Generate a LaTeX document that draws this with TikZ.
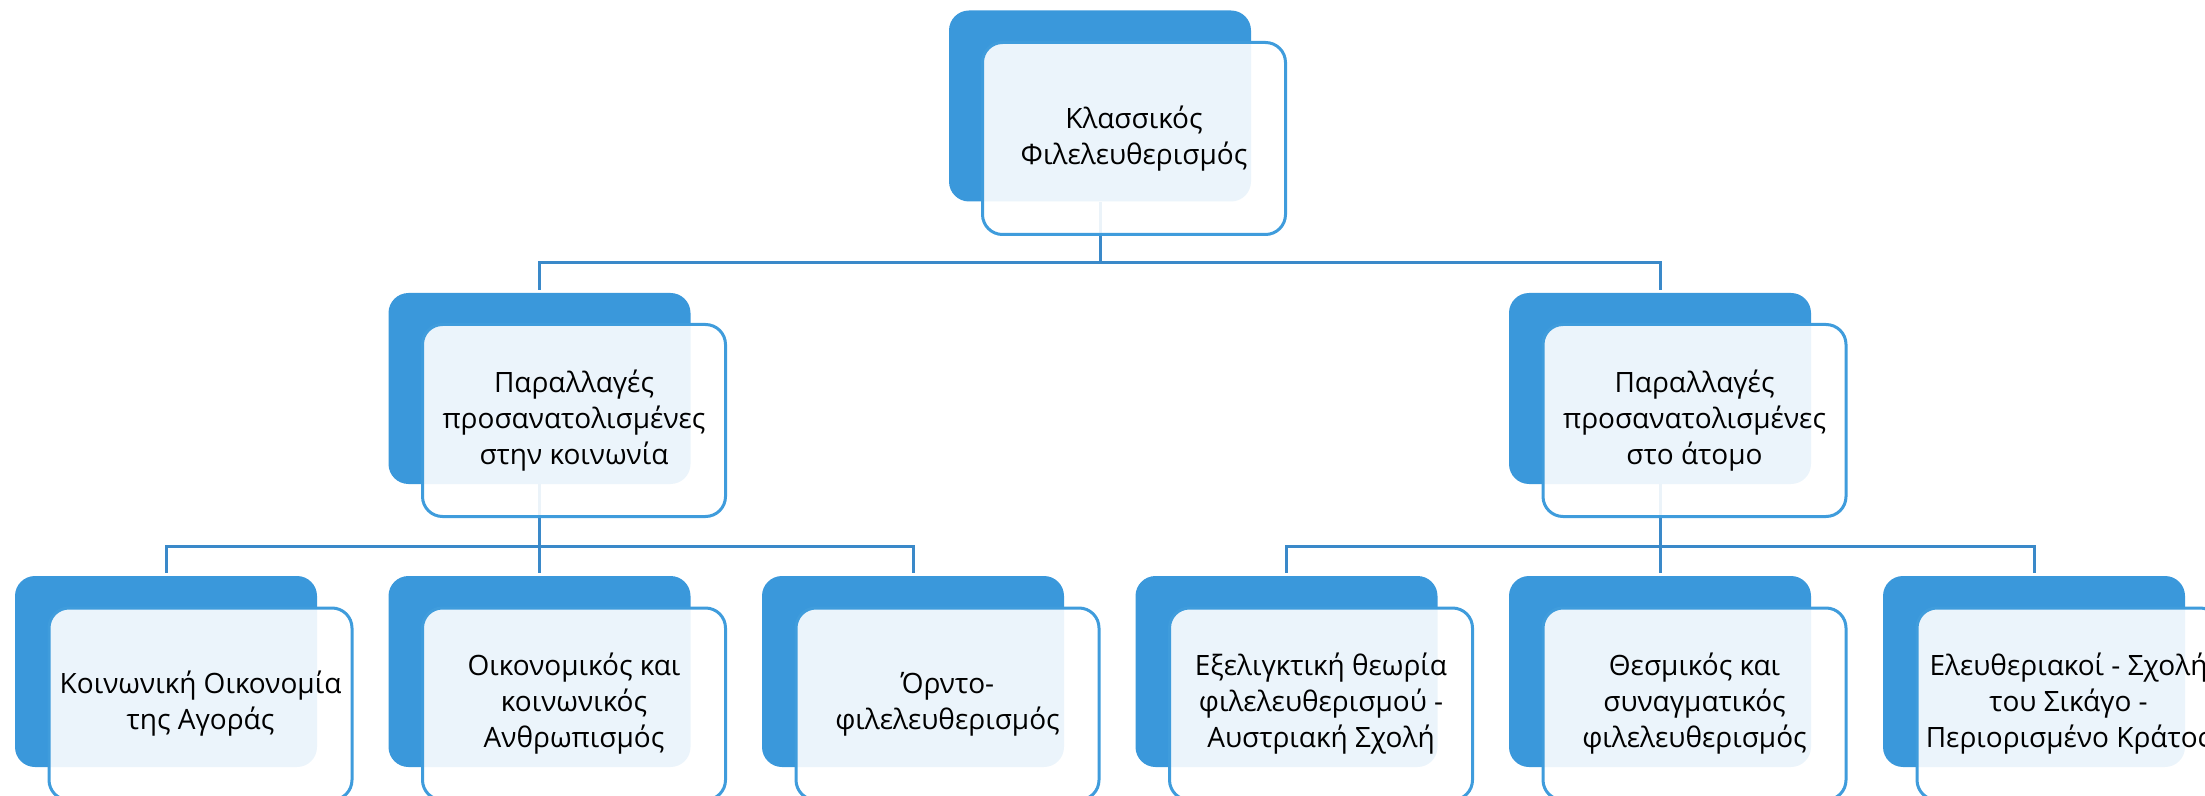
\documentclass[tikz,border=0pt]{standalone}
\usepackage{fontspec}
\setmainfont{Open Sans}
\pgfdeclarelayer{bg}
\pgfsetlayers{bg,main}
\definecolor{darkblue}{HTML}{3A98DB}
\definecolor{edgeblue}{HTML}{3F9CDC}
\definecolor{connblue}{HTML}{3A89C9}
\tikzset{
  darkbox/.style={fill=darkblue, rounded corners=10pt, minimum width=151pt, minimum height=95.5pt, inner sep=0pt},
  frontbox/.style={draw=edgeblue, line width=1.5pt, fill=white, fill opacity=0.9, text opacity=1,
    rounded corners=10pt, minimum width=151.5pt, minimum height=96pt, inner sep=0pt,
    align=center, text=black, font=\fontsize{14}{18}\selectfont},
  conn/.style={draw=connblue, line width=1.5pt},
}
\begin{document}
\begin{tikzpicture}[x=0.5pt,y=-0.5pt]
\useasboundingbox (0,0) rectangle (2205,796);
\clip (0,0) rectangle (2205,796);
% dark boxes
\node[darkbox] (d0) at (1100,106) {};
\node[darkbox] (d1) at (539.5,388.5) {};
\node[darkbox] (d2) at (1660,388.5) {};
\node[darkbox] (d3) at (166,671.5) {};
\node[darkbox] (d4) at (539.5,671.5) {};
\node[darkbox] (d5) at (913,671.5) {};
\node[darkbox] (d6) at (1286.5,671.5) {};
\node[darkbox] (d7) at (1660,671.5) {};
\node[darkbox] (d8) at (2034,671.5) {};
% front boxes
\node[frontbox] (f0) at (1134,138.5) {Κλασσικός\\Φιλελευθερισμός};
\node[frontbox] (f1) at (574,420.5) {Παραλλαγές\\προσανατολισμένες\\στην κοινωνία};
\node[frontbox] (f2) at (1694.5,420.5) {Παραλλαγές\\προσανατολισμένες\\στο άτομο};
\node[frontbox] (f3) at (200.5,704) {Κοινωνική Οικονομία\\της Αγοράς};
\node[frontbox] (f4) at (574,704) {Οικονομικός και\\κοινωνικός\\Ανθρωπισμός};
\node[frontbox] (f5) at (947.5,704) {Όρντο-\\φιλελευθερισμός};
\node[frontbox] (f6) at (1321,704) {Εξελιγκτική θεωρία\\φιλελευθερισμού -\\Αυστριακή Σχολή};
\node[frontbox] (f7) at (1694.5,704) {Θεσμικός και\\συναγματικός\\φιλελευθερισμός};
\node[frontbox] (f8) at (2068.5,704) {Ελευθεριακοί - Σχολή\\του Σικάγο -\\Περιορισμένο Κράτος};
% connectors
\begin{pgfonlayer}{bg}
\draw[conn] (d0.south) -- ++(0,61) coordinate (b0);
\draw[conn, shorten >=1.5pt] (b0) -| (d1.north);
\draw[conn, shorten >=1.5pt] (b0) -| (d2.north);
\draw[conn] (d1.south) -- ++(0,62) coordinate (b1);
\draw[conn, shorten >=1.5pt] (b1) -| (d3.north);
\draw[conn, shorten >=1.5pt] (b1) -| (d5.north);
\draw[conn, shorten >=1.5pt] (b1) -- (d4.north);
\draw[conn] (d2.south) -- ++(0,62) coordinate (b2);
\draw[conn, shorten >=1.5pt] (b2) -| (d6.north);
\draw[conn, shorten >=1.5pt] (b2) -| (d8.north);
\draw[conn, shorten >=1.5pt] (b2) -- (d7.north);
\end{pgfonlayer}
\end{tikzpicture}
\end{document}
